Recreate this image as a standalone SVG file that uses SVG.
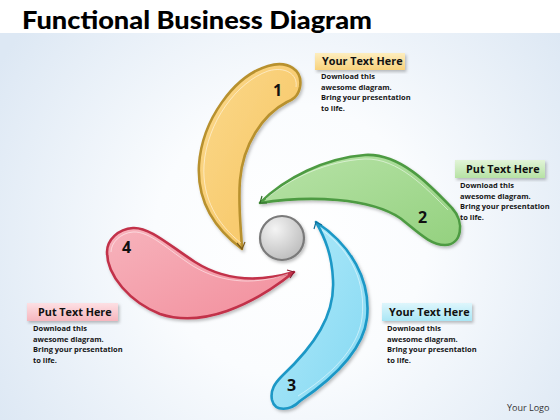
<svg xmlns="http://www.w3.org/2000/svg" width="560" height="420" viewBox="0 0 560 420">
<defs>
<radialGradient id="bg" cx="290" cy="240" r="340" gradientUnits="userSpaceOnUse">
<stop offset="0" stop-color="#ffffff"/><stop offset="0.4" stop-color="#fafcfe"/><stop offset="1" stop-color="#dde8f4"/>
</radialGradient>
<linearGradient id="gY" x1="0" y1="0" x2="1" y2="1"><stop offset="0" stop-color="#fbd98c"/><stop offset="1" stop-color="#f6c35e"/></linearGradient>
<linearGradient id="gG" x1="0" y1="0" x2="1" y2="1"><stop offset="0" stop-color="#b8e3a8"/><stop offset="1" stop-color="#94d17f"/></linearGradient>
<linearGradient id="gB" x1="0" y1="0" x2="1" y2="1"><stop offset="0" stop-color="#b3ebfa"/><stop offset="1" stop-color="#84d8f2"/></linearGradient>
<linearGradient id="gR" x1="0" y1="0" x2="1" y2="1"><stop offset="0" stop-color="#f7b3bc"/><stop offset="1" stop-color="#f28e9c"/></linearGradient>
<radialGradient id="gC" cx="0.35" cy="0.3" r="0.8"><stop offset="0" stop-color="#f4f4f4"/><stop offset="1" stop-color="#b9b9b9"/></radialGradient>
<linearGradient id="lY" x1="0" y1="0" x2="0" y2="1"><stop offset="0" stop-color="#fdeebf"/><stop offset="1" stop-color="#f8d27c"/></linearGradient>
<linearGradient id="lG" x1="0" y1="0" x2="0" y2="1"><stop offset="0" stop-color="#e2f4d8"/><stop offset="1" stop-color="#b6e2a4"/></linearGradient>
<linearGradient id="lB" x1="0" y1="0" x2="0" y2="1"><stop offset="0" stop-color="#def6fc"/><stop offset="1" stop-color="#a9e6f5"/></linearGradient>
<linearGradient id="lR" x1="0" y1="0" x2="0" y2="1"><stop offset="0" stop-color="#fde0e4"/><stop offset="1" stop-color="#f6b6be"/></linearGradient>
<filter id="sh" x="-20%" y="-20%" width="140%" height="140%"><feDropShadow dx="1.5" dy="2" stdDeviation="1.5" flood-color="#000" flood-opacity="0.25"/></filter>
</defs>
<style>
.blade{stroke-width:2.6;stroke-linejoin:round;filter:url(#sh)}
.hl{fill:none;stroke-width:1;stroke:#ffffff;opacity:0.5}
.num{font-family:"Open Sans","Liberation Sans",sans-serif;font-weight:bold;font-size:16px;fill:#111}
.lab{font-family:"Open Sans","Liberation Sans",sans-serif;font-weight:bold;font-size:10.8px;fill:#111}
.body{font-family:"Open Sans","Liberation Sans",sans-serif;font-weight:bold;font-size:7.5px;fill:#151515}
.box{filter:url(#sh)}
</style>
<rect width="560" height="420" fill="url(#bg)"/>
<rect width="560" height="33" fill="#ffffff"/>
<text x="22" y="29" font-family="Lato,'Liberation Sans',sans-serif" font-weight="900" font-size="25" textLength="350" lengthAdjust="spacingAndGlyphs" fill="#000">Functional Business Diagram</text>

<g id="connectors"></g>

<g id="node1">
<path class="blade" fill="url(#gY)" stroke="#b8912e" d="M242,249 C214,228 197,200 199,165 C202,120 234,76 268,66 C288,60 303,70 300,87 C298,97 292,100 287,102 C262,115 243,145 240,180 C238,205 241,228 242,249 Z"/>
<path class="hl" d="M241,243 C217,224 202,198 204,165 C207,122 237,82 268,71 C285,66 298,74 296,87"/>
<path d="M237,243 L242,249 L245,242" fill="none" stroke="#7a5a1a" stroke-width="1.2"/>
<text class="num" x="273" y="96">1</text>
</g>

<g id="node2">
<path class="blade" fill="url(#gG)" stroke="#4e9b43" d="M260,203 C285,178 325,158 365,155 C400,153 430,185 452,208 C465,222 462,245 445,245 C430,245 418,232 400,218 C370,198 310,195 260,203 Z"/>
<path class="hl" d="M266,199 C290,178 327,161 365,159 C398,158 426,188 448,210"/>
<path d="M262,196 L260,203 L267,203" fill="none" stroke="#2f6a28" stroke-width="1.2"/>
<text class="num" x="418" y="223">2</text>
</g>

<g id="node3">
<path class="blade" fill="url(#gB)" stroke="#1c98c6" d="M316,222 C351,245 371,280 367,318 C363,352 331,380 300,401 C290,411 275,412 272,400 C270,390 275,383 282,376 C315,345 335,315 333,280 C332,255 325,238 316,222 Z"/>
<path class="hl" d="M322,230 C352,252 366,283 362,318 C358,350 328,377 298,396"/>
<path d="M314,229 L316,222 L322,225" fill="none" stroke="#0f6f99" stroke-width="1.2"/>
<text class="num" x="287" y="391">3</text>
</g>

<g id="node4">
<path class="blade" fill="url(#gR)" stroke="#c2304a" d="M294,272 C260,282 225,281 195,262 C170,246 150,227 133,228 C118,229 107,240 107,252 C107,276 130,302 160,314 C202,328 252,306 294,272 Z"/>
<path class="hl" d="M288,274 C258,284 225,285 193,266 C168,250 150,231 133,232 C120,233 111,243 111,252"/>
<path d="M287,270 L294,272 L290,278" fill="none" stroke="#8a1a30" stroke-width="1.2"/>
<text class="num" x="122" y="253">4</text>
</g>

<g id="center">
<circle cx="282" cy="238" r="22" fill="url(#gC)" stroke="#7a7a7a" stroke-width="2.2" filter="url(#sh)"/>
</g>

<g id="label1">
<rect class="box" x="315" y="53" width="90" height="17" fill="url(#lY)"/>
<text class="lab" x="322" y="65">Your Text Here</text>
<text class="body"><tspan x="321" y="79">Download this</tspan><tspan x="321" y="89.5">awesome diagram.</tspan><tspan x="321" y="100">Bring your presentation</tspan><tspan x="321" y="110.5">to life.</tspan></text>
</g>

<g id="label2">
<rect class="box" x="455" y="160" width="90" height="18" fill="url(#lG)"/>
<text class="lab" x="466" y="173">Put Text Here</text>
<text class="body"><tspan x="460" y="188">Download this</tspan><tspan x="460" y="198.5">awesome diagram.</tspan><tspan x="460" y="209">Bring your presentation</tspan><tspan x="460" y="219.5">to life.</tspan></text>
</g>

<g id="label3">
<rect class="box" x="382" y="303" width="90" height="18" fill="url(#lB)"/>
<text class="lab" x="389" y="316">Your Text Here</text>
<text class="body"><tspan x="387" y="331">Download this</tspan><tspan x="387" y="341.5">awesome diagram.</tspan><tspan x="387" y="352">Bring your presentation</tspan><tspan x="387" y="362.5">to life.</tspan></text>
</g>

<g id="label4">
<rect class="box" x="27" y="303" width="91" height="18" fill="url(#lR)"/>
<text class="lab" x="38" y="316">Put Text Here</text>
<text class="body"><tspan x="33" y="331">Download this</tspan><tspan x="33" y="341.5">awesome diagram.</tspan><tspan x="33" y="352">Bring your presentation</tspan><tspan x="33" y="362.5">to life.</tspan></text>
</g>

<text x="507" y="411" font-family="'Open Sans','Liberation Sans',sans-serif" font-size="9" fill="#333">Your Logo</text>
</svg>
